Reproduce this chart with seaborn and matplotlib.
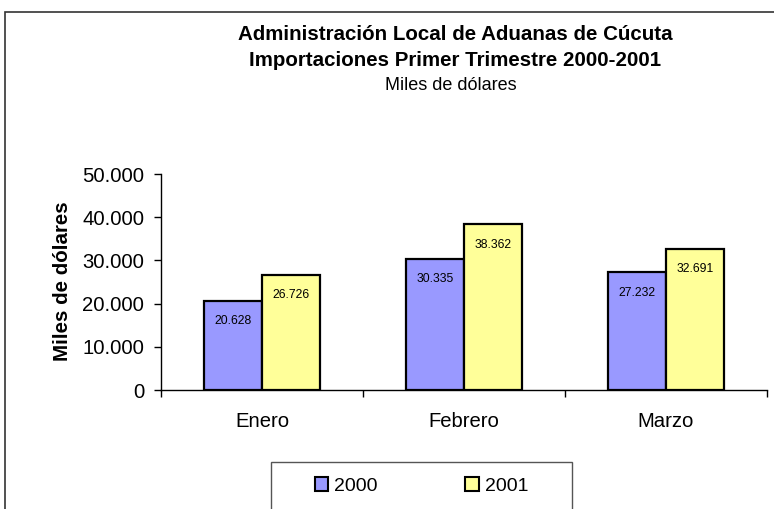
import pandas as pd
import matplotlib.pyplot as plt
import seaborn as sns
from matplotlib.patches import Rectangle, Patch
from matplotlib.ticker import FuncFormatter, FixedLocator

months = ["Enero", "Febrero", "Marzo"]
years = ["2000", "2001"]
values_2000 = [20628, 30335, 27232]
values_2001 = [26726, 38362, 32691]
colors = ["#9999FF", "#FFFF99"]

df = pd.DataFrame({
    "Mes": months * 2,
    "Año": [years[0]] * 3 + [years[1]] * 3,
    "Valor": values_2000 + values_2001,
})

sns.set_style("white")
plt.rcParams['font.family'] = ['Liberation Sans', 'DejaVu Sans']
plt.rcParams['text.color'] = 'black'
plt.rcParams['axes.labelcolor'] = 'black'
plt.rcParams['xtick.color'] = 'black'
plt.rcParams['ytick.color'] = 'black'

W, H = 774, 509
fig = plt.figure(figsize=(W / 100, H / 100), dpi=100)

# outer chart-area border, cut off at right and bottom
fig.add_artist(Rectangle((5 / W, -0.1), 1.1, 1 - 12 / H + 0.1, transform=fig.transFigure,
                         fill=False, edgecolor="#333333", linewidth=1.2))

ax = fig.add_axes([161 / W, (H - 390) / H, 606 / W, 216 / H])
sns.barplot(data=df, x="Mes", y="Valor", hue="Año", palette=colors, width=0.575,
            edgecolor="black", linewidth=1.6, legend=False, ax=ax, saturation=1)

def fmt(v, pos=None):
    return f"{int(v):,}".replace(",", ".")

for cont in ax.containers:
    ax.bar_label(cont, labels=[fmt(b.get_height()) for b in cont], padding=-19, fontsize=8.7)

ax.set_ylim(0, 50000)
ax.set_xlim(-0.5, 2.5)
ax.yaxis.set_major_formatter(FuncFormatter(fmt))
ax.set_yticks(range(0, 50001, 10000))
ax.tick_params(axis="y", labelsize=14.6, length=5, width=1, direction="out", left=True, pad=7)
ax.xaxis.set_major_locator(FixedLocator([0, 1, 2]))
ax.tick_params(axis="x", labelsize=14.6, length=0, pad=16)
ax.xaxis.set_minor_locator(FixedLocator([-0.5, 0.5, 1.5, 2.5]))
ax.tick_params(axis="x", which="minor", length=5, width=1, direction="out", bottom=True)
ax.set_xlabel("")
ax.set_ylabel("Miles de dólares", fontsize=14.8, fontweight="bold")
ax.yaxis.set_label_coords(-89 / 606, 0.505)
for s in ["top", "right"]:
    ax.spines[s].set_visible(False)
for s in ["left", "bottom"]:
    ax.spines[s].set_color("black")
    ax.spines[s].set_linewidth(1)

fig.text(455 / W, 1 - 35 / H, "Administración Local de Aduanas de Cúcuta", ha="center", va="center",
         fontsize=14.8, fontweight="bold")
fig.text(455 / W, 1 - 60 / H, "Importaciones Primer Trimestre 2000-2001", ha="center", va="center",
         fontsize=14.8, fontweight="bold")
fig.text(451 / W, 1 - 85 / H, "Miles de dólares", ha="center", va="center", fontsize=13)

# legend box extends past the bottom edge
fig.add_artist(Rectangle((271 / W, -0.1), 301 / W, 0.1 + (H - 462) / H, transform=fig.transFigure,
                         fill=False, edgecolor="#555555", linewidth=1))
handles = [Patch(facecolor=c, edgecolor="black", linewidth=1.5, label=y) for c, y in zip(colors, years)]
fig.legend(handles=handles, loc="center", bbox_to_anchor=(421.5 / W, 1 - 486 / H), ncol=2, frameon=False,
           fontsize=14, handlelength=0.7, handleheight=0.7, handletextpad=0.3, columnspacing=4.5)

fig.savefig("out.png", dpi=100)
